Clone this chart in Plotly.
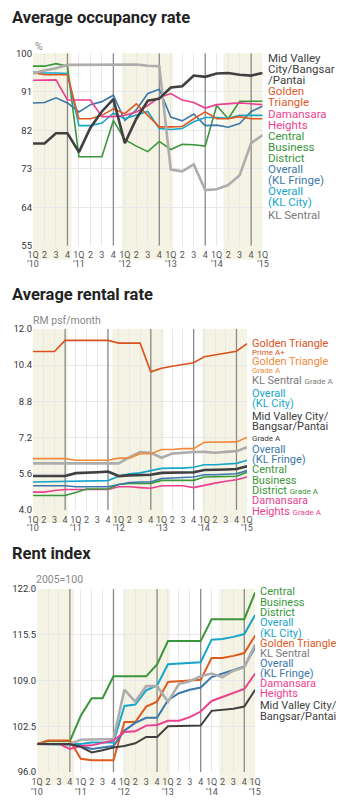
import plotly.graph_objects as go

W, H = 340, 808

quarter_labels = ["1Q", "2", "3", "4"] * 5 + ["1Q"]
year_labels = ["’10", "’11", "’12", "’13", "’14", "’15"]
xq = list(range(21))

# ---------- Average occupancy rate (%) ----------
occ_mid_valley = [78.9, 78.9, 81.3, 81.3, 76.9, 82.6, 86.4, 89.3, 79.0, 84.7, 88.9, 89.4, 92.0, 92.3, 94.8, 94.5, 95.3, 95.4, 95.0, 94.8, 95.4]
occ_golden = [95.5, 95.0, 95.0, 95.0, 84.7, 84.7, 85.5, 87.0, 85.9, 88.2, 85.5, 82.8, 82.8, 82.9, 84.7, 86.3, 84.7, 84.7, 85.2, 84.7, 84.7]
occ_damansara = [93.7, 93.8, 93.8, 89.1, 89.1, 89.1, 85.2, 85.2, 85.5, 86.3, 87.8, 89.7, 90.6, 89.1, 88.5, 87.2, 88.0, 88.2, 88.4, 88.2, 88.0]
occ_cbd = [97.0, 97.0, 97.6, 97.0, 75.8, 75.8, 75.8, 84.3, 79.8, 78.3, 77.0, 79.4, 77.5, 78.7, 78.6, 78.3, 87.8, 84.7, 88.8, 88.8, 88.8]
occ_fringe = [88.4, 88.5, 89.6, 88.4, 86.3, 88.0, 88.7, 90.2, 84.3, 86.8, 90.6, 91.6, 85.1, 84.2, 85.8, 83.1, 83.2, 82.7, 83.6, 86.4, 87.6]
occ_city = [95.6, 95.4, 95.4, 95.3, 83.1, 83.1, 83.7, 86.0, 84.7, 85.6, 86.4, 82.4, 82.2, 82.4, 84.0, 85.0, 85.0, 84.8, 85.5, 85.5, 85.5]
occ_sentral = [95.3, 96.0, 96.5, 97.3, 97.3, 97.3, 97.3, 97.3, 97.3, 97.4, 97.1, 97.0, 72.8, 72.4, 74.0, 68.0, 68.2, 69.2, 71.5, 79.0, 80.9]
occ_ticks = [55, 64, 73, 82, 91, 100]

# ---------- Average rental rate (RM psf/month) ----------
rent_golden_prime = [11.0, 11.0, 11.0, 11.49, 11.49, 11.49, 11.49, 11.49, 11.37, 11.37, 11.37, 10.1, 10.26, 10.35, 10.43, 10.5, 10.77, 10.84, 10.93, 11.01, 11.35]
rent_golden_a = [6.27, 6.27, 6.27, 6.27, 6.2, 6.2, 6.2, 6.2, 6.29, 6.29, 6.49, 6.49, 6.67, 6.67, 6.71, 6.71, 6.99, 6.99, 7.01, 7.01, 7.21]
rent_sentral_a = [6.06, 6.06, 6.06, 6.06, 6.06, 6.06, 6.06, 6.06, 6.06, 6.34, 6.56, 6.53, 6.31, 6.49, 6.53, 6.56, 6.57, 6.53, 6.57, 6.6, 6.77]
rent_city = [5.24, 5.25, 5.26, 5.27, 5.28, 5.28, 5.29, 5.3, 5.49, 5.6, 5.64, 5.74, 5.84, 5.85, 5.85, 5.89, 6.0, 6.0, 6.03, 6.06, 6.2]
rent_mid_valley_a = [5.5, 5.5, 5.5, 5.5, 5.63, 5.64, 5.67, 5.7, 5.5, 5.53, 5.56, 5.56, 5.64, 5.64, 5.66, 5.67, 5.77, 5.77, 5.79, 5.81, 5.93]
rent_fringe = [5.07, 5.07, 5.07, 5.07, 5.03, 5.03, 5.03, 5.03, 5.13, 5.21, 5.24, 5.24, 5.39, 5.43, 5.44, 5.46, 5.56, 5.56, 5.57, 5.6, 5.74]
rent_cbd_a = [4.64, 4.64, 4.64, 4.64, 4.77, 4.93, 4.93, 4.93, 5.13, 5.17, 5.17, 5.17, 5.31, 5.31, 5.31, 5.31, 5.46, 5.46, 5.46, 5.49, 5.67]
rent_damansara_a = [4.79, 4.79, 4.86, 4.91, 4.91, 4.91, 4.91, 4.91, 5.03, 5.03, 4.99, 4.96, 5.07, 5.07, 5.07, 4.99, 5.1, 5.19, 5.27, 5.34, 5.46]
rent_ticks = [4.0, 5.6, 7.2, 8.8, 10.4, 12.0]

# ---------- Rent index (2005=100) ----------
idx_cbd = [100.0, 100.4, 100.4, 100.4, 104.0, 106.5, 106.5, 109.6, 109.6, 109.6, 109.6, 111.3, 114.6, 114.6, 114.6, 114.6, 117.7, 117.7, 117.7, 117.7, 121.5]
idx_city = [100.0, 100.0, 100.0, 100.0, 100.0, 100.2, 100.2, 100.2, 105.4, 105.6, 107.6, 108.3, 111.3, 111.4, 111.6, 111.6, 114.8, 114.9, 115.2, 115.6, 118.3]
idx_golden = [100.0, 100.5, 100.5, 100.5, 97.9, 97.7, 97.7, 97.7, 103.1, 103.1, 105.3, 106.0, 108.8, 108.9, 109.0, 109.1, 112.2, 112.2, 112.5, 112.9, 115.4]
idx_sentral = [100.0, 100.0, 100.0, 100.0, 100.6, 100.6, 100.6, 100.7, 107.7, 106.0, 108.2, 108.2, 106.0, 108.5, 108.9, 109.6, 110.0, 109.5, 110.4, 110.9, 114.1]
idx_fringe = [100.0, 100.0, 100.0, 99.9, 99.7, 99.3, 99.5, 99.7, 101.9, 103.0, 103.7, 103.7, 106.2, 107.2, 107.7, 108.0, 109.5, 110.0, 110.5, 111.0, 113.7]
idx_damansara = [100.0, 100.0, 100.0, 99.3, 99.7, 99.8, 100.2, 100.5, 101.7, 101.8, 102.6, 102.7, 103.3, 103.3, 103.8, 104.6, 106.1, 106.7, 107.2, 107.8, 110.0]
idx_mid_valley = [100.0, 100.0, 100.0, 100.0, 99.6, 98.8, 99.1, 99.5, 99.7, 100.1, 101.0, 101.0, 102.5, 102.5, 102.6, 102.6, 104.7, 104.8, 105.0, 105.3, 107.7]
idx_ticks = [96.0, 102.5, 109.0, 115.5, 122.0]

# ---------- styles ----------
C_DARK = "#404040"
C_ORANGE = "#e05a1e"
C_ORANGE_LIGHT = "#f28a3a"
C_PINK = "#ec3f8e"
C_GREEN = "#3a963a"
C_STEEL = "#3b78a8"
C_CYAN = "#18a6c8"
C_GRAY = "#adadad"
C_GRAY_TXT = "#7a7a7a"
BAND = "#f4f3e4"
GRID = "#e8e8e8"
YEARLINE = "#8a8a8a"

FONT_LBL = "Roboto, sans-serif"
FONT_TITLE = "Roboto, sans-serif"
FONT_TICK = "Roboto, sans-serif"


def px_x(x):
    return x / W


def px_y(y):
    return 1 - y / H


charts = [
    dict(ax="", x0=28, x1=266, y0=48, y1=243, yr=[55, 100], ticks=occ_ticks, fmt="",
         tlabel_y=261.5, band_bottom=257,
         bands=[(0, 3.35), (7.73, 12.2), (16.6, 20)]),
    dict(ax="2", x0=28, x1=250, y0=327.3, y1=511, yr=[4, 12], ticks=rent_ticks, fmt=".1f",
         tlabel_y=529, band_bottom=524,
         bands=[(0, 3.25), (7.4, 12.2), (15.8, 20)]),
    dict(ax="3", x0=32.3, x1=258.3, y0=591, y1=776.7, yr=[96, 122], ticks=idx_ticks, fmt=".1f",
         tlabel_y=797, band_bottom=790,
         bands=[(0, 3.4), (7.9, 12.2), (16.7, 20)]),
]

series = [
    # chart 1
    ("", occ_cbd, C_GREEN, 1.6),
    ("", occ_fringe, C_STEEL, 1.6),
    ("", occ_city, C_CYAN, 1.6),
    ("", occ_golden, C_ORANGE, 1.6),
    ("", occ_damansara, C_PINK, 1.6),
    ("", occ_sentral, C_GRAY, 2.6),
    ("", occ_mid_valley, C_DARK, 2.6),
    # chart 2
    ("2", rent_damansara_a, C_PINK, 1.6),
    ("2", rent_cbd_a, C_GREEN, 1.6),
    ("2", rent_fringe, C_STEEL, 1.6),
    ("2", rent_city, C_CYAN, 1.6),
    ("2", rent_sentral_a, C_GRAY, 2.6),
    ("2", rent_mid_valley_a, C_DARK, 2.6),
    ("2", rent_golden_a, C_ORANGE_LIGHT, 1.6),
    ("2", rent_golden_prime, "#d9521c", 1.6),
    # chart 3
    ("3", idx_cbd, C_GREEN, 2.0),
    ("3", idx_city, C_CYAN, 2.0),
    ("3", idx_golden, C_ORANGE, 2.0),
    ("3", idx_fringe, C_STEEL, 2.0),
    ("3", idx_sentral, C_GRAY, 2.6),
    ("3", idx_damansara, C_PINK, 2.0),
    ("3", idx_mid_valley, C_DARK, 2.0),
]

fig = go.Figure()

# year dividers (at each 4Q) drawn first, beneath the data lines
for c in charts:
    ax = c["ax"]
    dx, dy = [], []
    for q in range(3, 21, 4):
        dx += [q, q, None]
        dy += [c["yr"][0], c["yr"][1], None]
    fig.add_trace(go.Scatter(x=dx, y=dy, mode="lines", xaxis="x" + ax, yaxis="y" + ax,
                             line=dict(color=YEARLINE, width=1.3), hoverinfo="skip",
                             showlegend=False, cliponaxis=False))

for ax, vals, color, w in series:
    fig.add_trace(go.Scatter(x=xq, y=vals, mode="lines", xaxis="x" + ax, yaxis="y" + ax,
                             line=dict(color=color, width=w), hoverinfo="skip", showlegend=False))

layout = dict(width=W, height=H, margin=dict(l=0, r=0, t=0, b=0), paper_bgcolor="white",
              plot_bgcolor="rgba(0,0,0,0)", showlegend=False)
shapes = []
annotations = []

for c in charts:
    ax = c["ax"]
    xa = "xaxis" + ax
    ya = "yaxis" + ax
    layout[xa] = dict(domain=[px_x(c["x0"]), px_x(c["x1"])], range=[0, 20], anchor="y" + ax,
                      tickvals=xq, ticktext=quarter_labels, showgrid=True, gridcolor=GRID, gridwidth=1,
                      zeroline=False, showline=False, ticks="outside", ticklen=1,
                      tickcolor="rgba(0,0,0,0)", fixedrange=True, tickangle=0,
                      tickfont=dict(family=FONT_TICK, size=9, color="#555"))
    layout[ya] = dict(domain=[px_y(c["y1"]), px_y(c["y0"])], range=c["yr"], anchor="x" + ax,
                      tickvals=c["ticks"], tickformat=c["fmt"], showgrid=True, gridcolor=GRID,
                      gridwidth=1.2, zeroline=False, showline=False, ticks="", fixedrange=True,
                      tickfont=dict(family=FONT_TICK, size=9.5, color="#333"))
    # shaded bands
    for b0, b1 in c["bands"]:
        shapes.append(dict(type="rect", xref="x" + ax, yref="paper", x0=b0, x1=b1,
                           y0=px_y(c["band_bottom"]), y1=px_y(c["y0"]), fillcolor=BAND,
                           line=dict(width=0), layer="below"))
    # year labels under 1Q ticks
    for k, yl in enumerate(year_labels):
        annotations.append(dict(text=yl, xref="x" + ax, yref="paper", x=4 * k, y=px_y(c["tlabel_y"]),
                                xanchor="center", yanchor="middle", showarrow=False, borderpad=0,
                                font=dict(family=FONT_TICK, size=9, color="#555")))

layout["shapes"] = shapes


def title(text, y):
    annotations.append(dict(text="<b>" + text + "</b>", xref="paper", yref="paper", x=px_x(4), y=px_y(y),
                            xanchor="left", yanchor="middle", showarrow=False,
                            font=dict(family=FONT_TITLE, size=16.5, color="#222")))


def note(text, x, y, size=10.5):
    annotations.append(dict(text=text, xref="paper", yref="paper", x=px_x(x), y=px_y(y),
                            xanchor="left", yanchor="middle", showarrow=False,
                            font=dict(family=FONT_TICK, size=size, color="#888")))


def lab(text, x, y, color, size=11.5):
    annotations.append(dict(text=text, xref="paper", yref="paper", x=px_x(x), y=px_y(y),
                            xanchor="left", yanchor="middle", showarrow=False, borderpad=0,
                            font=dict(family=FONT_LBL, size=size, color=color)))


title("Average occupancy rate", 12)
title("Average rental rate", 292)
title("Rent index", 555)
note("%", 28, 41, 10.5)
note("RM psf/month", 26, 319)
note("2005=100", 29, 581)

# chart 1 labels
x1 = 271
for t, y, col in [("Mid Valley", 53, C_DARK), ("City/Bangsar", 64.2, C_DARK), ("/Pantai", 75.4, C_DARK),
                  ("Golden", 86.6, C_ORANGE), ("Triangle", 97.8, C_ORANGE),
                  ("Damansara", 109, C_PINK), ("Heights", 120.2, C_PINK),
                  ("Central", 132, C_GREEN), ("Business", 143.2, C_GREEN), ("District", 154.4, C_GREEN),
                  ("Overall", 165.6, C_STEEL), ("(KL Fringe)", 176.8, C_STEEL),
                  ("Overall", 188, C_CYAN), ("(KL City)", 199.2, C_CYAN),
                  ("KL Sentral", 211.4, C_GRAY_TXT)]:
    lab(t, x1, y, col, 11.5)

# chart 2 labels
x2 = 254
sm = "<span style='font-size:8px'>%s</span>"
for t, y, col, s in [("Golden Triangle", 341.7, "#d9521c", 11), ("Prime A+", 351.5, "#d9521c", 8),
                     ("Golden Triangle", 360.5, C_ORANGE_LIGHT, 11), ("Grade A", 369.8, C_ORANGE_LIGHT, 8),
                     ("KL Sentral " + sm % "Grade A", 379.5, C_GRAY_TXT, 11),
                     ("Overall", 392.7, C_CYAN, 11), ("(KL City)", 403.3, C_CYAN, 11),
                     ("Mid Valley City/", 416, C_DARK, 11), ("Bangsar/Pantai", 426.7, C_DARK, 11),
                     ("Grade A", 438.5, C_DARK, 8),
                     ("Overall", 449.3, C_STEEL, 11), ("(KL Fringe)", 460, C_STEEL, 11),
                     ("Central", 470.2, C_GREEN, 11), ("Business", 480.6, C_GREEN, 11),
                     ("District " + sm % "Grade A", 491, C_GREEN, 11),
                     ("Damansara", 501.7, C_PINK, 11), ("Heights " + sm % "Grade A", 512.4, C_PINK, 11)]:
    lab(t, x2, y, col, s)

# chart 3 labels
x3 = 262
for t, y, col in [("Central", 594, C_GREEN), ("Business", 604.5, C_GREEN), ("District", 615, C_GREEN),
                  ("Overall", 625.5, C_CYAN), ("(KL City)", 636, C_CYAN),
                  ("Golden Triangle", 646.5, C_ORANGE), ("KL Sentral", 656.5, C_GRAY_TXT),
                  ("Overall", 666.5, C_STEEL), ("(KL Fringe)", 676.5, C_STEEL),
                  ("Damansara", 687, C_PINK), ("Heights", 697, C_PINK),
                  ("Mid Valley City/", 709, C_DARK), ("Bangsar/Pantai", 720, C_DARK)]:
    lab(t, x3, y, col, 11)

layout["annotations"] = annotations
fig.update_layout(**layout)
fig.write_html("out.html")
